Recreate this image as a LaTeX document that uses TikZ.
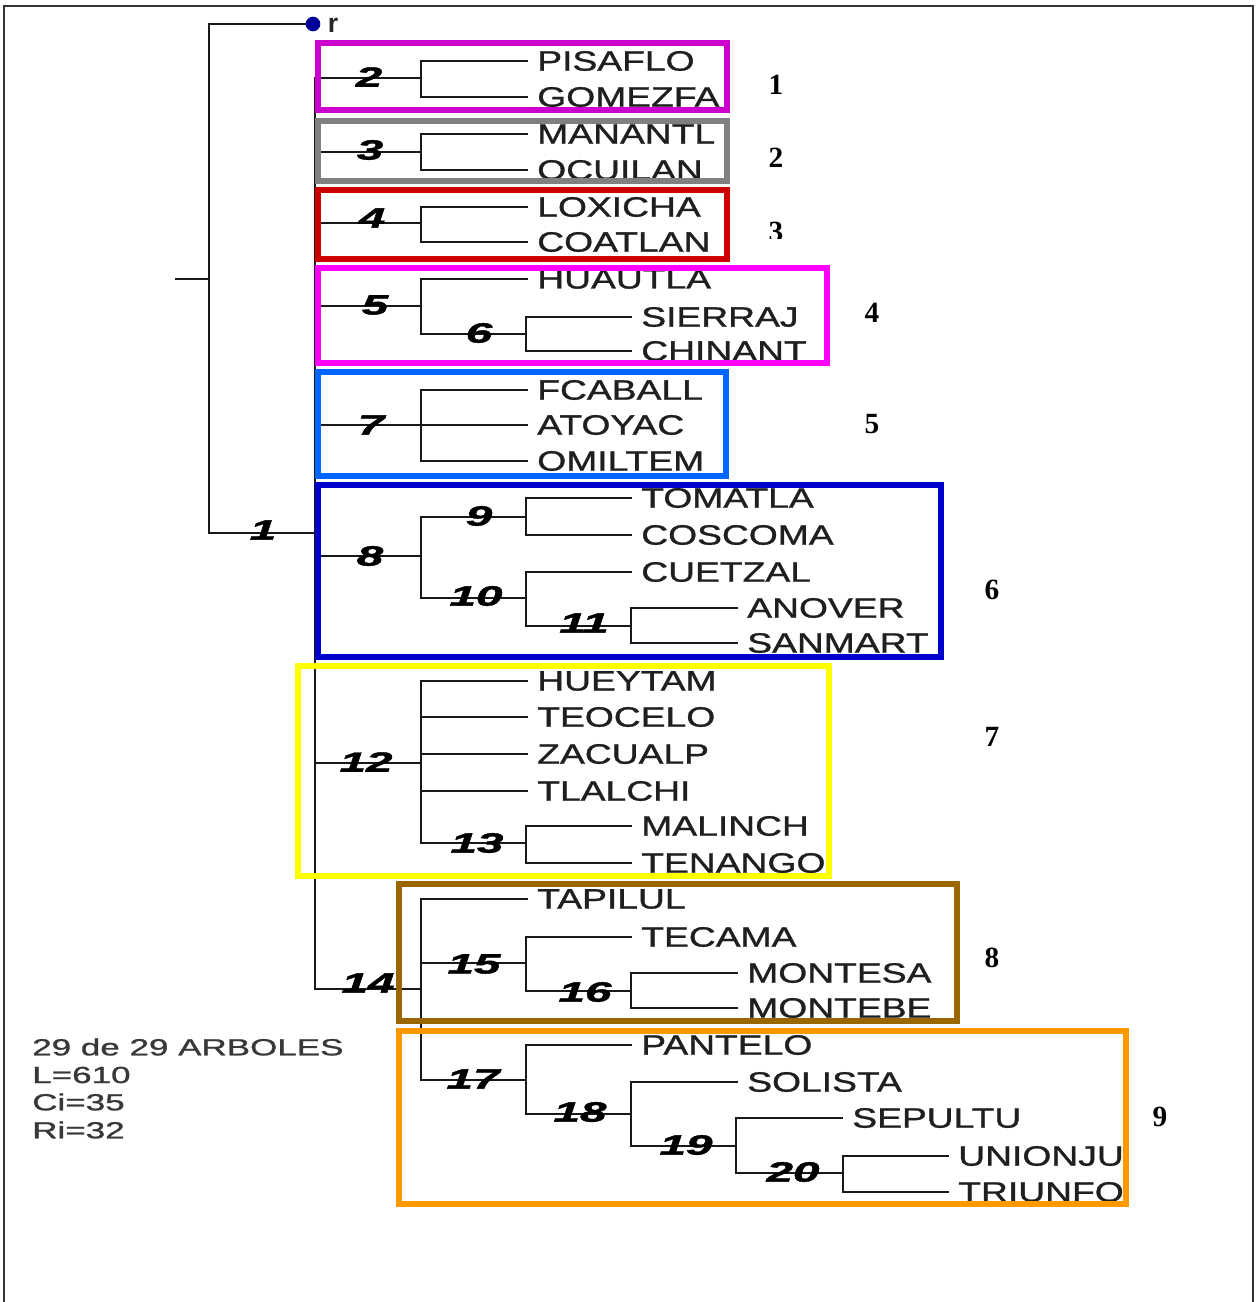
\documentclass[tikz,border=0pt]{standalone}
\usepackage{fontspec}
\usepackage{graphicx}
\newfontfamily\lsans{Liberation Sans}
\newfontfamily\lsansfb[FakeBold=0.9]{Liberation Sans}
\newfontfamily\lsansnb[FakeBold=1.2]{Liberation Sans}
\newfontfamily\lserif{Liberation Serif}
\newcommand\leaftxt[1]{\scalebox{1.33}[1]{#1}}
\newcommand\numtxt[1]{\scalebox{1.7}[1]{#1}}
\newcommand\infotxt[1]{\scalebox{1.5}[1]{#1}}
\newcommand\leaffont{\lsansfb\fontsize{21}{25}\selectfont}
\newcommand\numfont{\lsansnb\bfseries\itshape\fontsize{21}{25}\selectfont}
\newcommand\grpfont{\lserif\bfseries\fontsize{22}{26}\selectfont}
\newcommand\infofont{\lsansfb\fontsize{17.5}{20}\selectfont}
\definecolor{c1}{HTML}{CC00CC}
\definecolor{c2}{HTML}{808080}
\definecolor{c3}{HTML}{CC0000}
\definecolor{c4}{HTML}{FF00FF}
\definecolor{c5}{HTML}{0066FF}
\definecolor{c6}{HTML}{0000CC}
\definecolor{c7}{HTML}{FFFF00}
\definecolor{c8}{HTML}{996600}
\definecolor{c9}{HTML}{FF9900}
\definecolor{dotblue}{HTML}{000099}
\begin{document}
\begin{tikzpicture}[x=0.75pt,y=-0.75pt,
  br/.style={line width=1.5pt, black!90, line cap=rect},
  leaf/.style={anchor=west, inner xsep=7.5pt, inner ysep=0pt, text=black!88, font=\leaffont},
  num/.style={inner sep=0pt, font=\numfont},
  grp/.style={inner sep=0pt, font=\grpfont},
  box/.style={line width=4.2pt},
  info/.style={anchor=west, inner sep=0pt, text=black!78, font=\infofont}]
\useasboundingbox (0,0) rectangle (1257,1302);
\fill[white] (0,0) rectangle (1257,1302);
% outer frame
\draw[line width=1.6pt, black!80] (4,1302) -- (4,6) -- (1253,6) -- (1253,1302);

% leaves
\node[leaf] (pisaflo) at (527,61) {\leaftxt{PISAFLO}};
\node[leaf] (gomezfa) at (527,97) {\leaftxt{GOMEZFA}};
\node[leaf] (manantl) at (527,134) {\leaftxt{MANANTL}};
\node[leaf] (ocuilan) at (527,170) {\leaftxt{OCUILAN}};
\node[leaf] (loxicha) at (527,207) {\leaftxt{LOXICHA}};
\node[leaf] (coatlan) at (527,242) {\leaftxt{COATLAN}};
\node[leaf] (huautla) at (527,279) {\leaftxt{HUAUTLA}};
\node[leaf] (sierraj) at (631,317) {\leaftxt{SIERRAJ}};
\node[leaf] (chinant) at (631,351) {\leaftxt{CHINANT}};
\node[leaf] (fcaball) at (527,390) {\leaftxt{FCABALL}};
\node[leaf] (atoyac) at (527,425) {\leaftxt{ATOYAC}};
\node[leaf] (omiltem) at (527,461) {\leaftxt{OMILTEM}};
\node[leaf] (tomatla) at (631,498) {\leaftxt{TOMATLA}};
\node[leaf] (coscoma) at (631,535) {\leaftxt{COSCOMA}};
\node[leaf] (cuetzal) at (631,572) {\leaftxt{CUETZAL}};
\node[leaf] (anover) at (737,608) {\leaftxt{ANOVER}};
\node[leaf] (sanmart) at (737,643) {\leaftxt{SANMART}};
\node[leaf] (hueytam) at (527,681) {\leaftxt{HUEYTAM}};
\node[leaf] (teocelo) at (527,717) {\leaftxt{TEOCELO}};
\node[leaf] (zacualp) at (527,754) {\leaftxt{ZACUALP}};
\node[leaf] (tlalchi) at (527,791) {\leaftxt{TLALCHI}};
\node[leaf] (malinch) at (631,826) {\leaftxt{MALINCH}};
\node[leaf] (tenango) at (631,863) {\leaftxt{TENANGO}};
\node[leaf] (tapilul) at (527,899) {\leaftxt{TAPILUL}};
\node[leaf] (tecama) at (631,937) {\leaftxt{TECAMA}};
\node[leaf] (montesa) at (737,973) {\leaftxt{MONTESA}};
\node[leaf] (montebe) at (737,1008) {\leaftxt{MONTEBE}};
\node[leaf] (pantelo) at (631,1045) {\leaftxt{PANTELO}};
\node[leaf] (solista) at (737,1082) {\leaftxt{SOLISTA}};
\node[leaf] (sepultu) at (842,1118) {\leaftxt{SEPULTU}};
\node[leaf] (unionju) at (948,1156) {\leaftxt{UNIONJU}};
\node[leaf] (triunfo) at (948,1192) {\leaftxt{TRIUNFO}};

% internal nodes
\coordinate (stub) at (176,279);
\coordinate (root) at (209,279);
\node[circle, fill=dotblue, inner sep=0pt, minimum size=11pt] (rdot) at (313,24) {};
\node[inner sep=0pt, font=\lsans\bfseries\fontsize{20}{24}\selectfont, text=black!85] (rlab) at (333,25) {r};
\coordinate (n1) at (315,533);
\coordinate (n2) at (421,78);
\coordinate (n3) at (421,152);
\coordinate (n4) at (421,223);
\coordinate (n5) at (421,306);
\coordinate (n6) at (526,334);
\coordinate (n7) at (421,425);
\coordinate (n8) at (421,556);
\coordinate (n9) at (526,517);
\coordinate (n10) at (526,598);
\coordinate (n11) at (631,626);
\coordinate (n12) at (421,763);
\coordinate (n13) at (526,843);
\coordinate (n14) at (421,989);
\coordinate (n15) at (526,963);
\coordinate (n16) at (631,991);
\coordinate (n17) at (526,1080);
\coordinate (n18) at (631,1114);
\coordinate (n19) at (736,1146);
\coordinate (n20) at (843,1173);

% tree lines
\draw[br] (stub) -- (root);
\draw[br] (rdot) -- (root |- rdot) -- (root |- n1) -- (n1);
\draw[br] (n1 |- n2) -- (n1 |- n14);
\foreach \p/\a/\b in {n2/pisaflo/gomezfa, n3/manantl/ocuilan, n4/loxicha/coatlan,
  n5/huautla/n6, n6/sierraj/chinant, n7/fcaball/omiltem, n8/n9/n10, n9/tomatla/coscoma,
  n10/cuetzal/n11, n11/anover/sanmart, n12/hueytam/n13, n13/malinch/tenango,
  n14/tapilul/n17, n15/tecama/n16, n16/montesa/montebe, n17/pantelo/n18,
  n18/solista/n19, n19/sepultu/n20, n20/unionju/triunfo}
  \draw[br] (\p |- \a) -- (\p |- \b);
\foreach \p/\c in {n1/n2, n1/n3, n1/n4, n1/n5, n1/n7, n1/n8, n1/n12, n1/n14,
  n2/pisaflo, n2/gomezfa, n3/manantl, n3/ocuilan, n4/loxicha, n4/coatlan,
  n5/huautla, n5/n6, n6/sierraj, n6/chinant, n7/fcaball, n7/atoyac, n7/omiltem,
  n8/n9, n8/n10, n9/tomatla, n9/coscoma, n10/cuetzal, n10/n11, n11/anover, n11/sanmart,
  n12/hueytam, n12/teocelo, n12/zacualp, n12/tlalchi, n12/n13, n13/malinch, n13/tenango,
  n14/tapilul, n14/n15, n14/n17, n15/tecama, n15/n16, n16/montesa, n16/montebe,
  n17/pantelo, n17/n18, n18/solista, n18/n19, n19/sepultu, n19/n20,
  n20/unionju, n20/triunfo}
  \draw[br] (\p |- \c) -- (\c);

% node numbers
\node[num] (l1) at (263,530) {\numtxt{1}};
\node[num] (l2) at (369,77) {\numtxt{2}};
\node[num] (l3) at (370,150) {\numtxt{3}};
\node[num] (l4) at (372,218) {\numtxt{4}};
\node[num] (l5) at (375,305) {\numtxt{5}};
\node[num] (l6) at (479,333) {\numtxt{6}};
\node[num] (l7) at (371,425) {\numtxt{7}};
\node[num] (l8) at (370,556) {\numtxt{8}};
\node[num] (l9) at (479,516) {\numtxt{9}};
\node[num] (l10) at (476,596) {\numtxt{10}};
\node[num] (l11) at (584,623) {\numtxt{11}};
\node[num] (l12) at (366,762) {\numtxt{12}};
\node[num] (l13) at (477,843) {\numtxt{13}};
\node[num] (l14) at (368,983) {\numtxt{14}};
\node[num] (l15) at (474,964) {\numtxt{15}};
\node[num] (l16) at (585,992) {\numtxt{16}};
\node[num] (l17) at (473,1079) {\numtxt{17}};
\node[num] (l18) at (580,1112) {\numtxt{18}};
\node[num] (l19) at (686,1145) {\numtxt{19}};
\node[num] (l20) at (793,1172) {\numtxt{20}};

% group boxes
\draw[box, c1] (318,43) rectangle (727,110);
\draw[box, c2] (318,121) rectangle (727,181);
\draw[box, c3] (318,190) rectangle (727,259);
\draw[box, c4] (318,268) rectangle (827,363);
\draw[box, c5] (318,372) rectangle (726,476);
\draw[box, c6] (318,485) rectangle (941,657);
\draw[box, c7] (298,666) rectangle (829,876);
\draw[box, c8] (399,884) rectangle (957,1021);
\draw[box, c9] (399,1031) rectangle (1126,1204);

% group numbers
\node[grp] (g1) at (776,85) {1};
\node[grp] (g2) at (776,158) {2};
\begin{scope}
  \clip (755,200) rectangle (800,238);
  \node[grp] (g3) at (776,232) {3};
\end{scope}
\node[grp] (g4) at (872,313) {4};
\node[grp] (g5) at (872,424) {5};
\node[grp] (g6) at (992,590) {6};
\node[grp] (g7) at (992,737) {7};
\node[grp] (g8) at (992,958) {8};
\node[grp] (g9) at (1160,1117) {9};

% info text
\node[info] (t1) at (32,1047) {\infotxt{29 de 29 ARBOLES}};
\node[info] (t2) at (32,1075) {\infotxt{L=610}};
\node[info] (t3) at (32,1102) {\infotxt{Ci=35}};
\node[info] (t4) at (32,1130) {\infotxt{Ri=32}};
\end{tikzpicture}
\end{document}
